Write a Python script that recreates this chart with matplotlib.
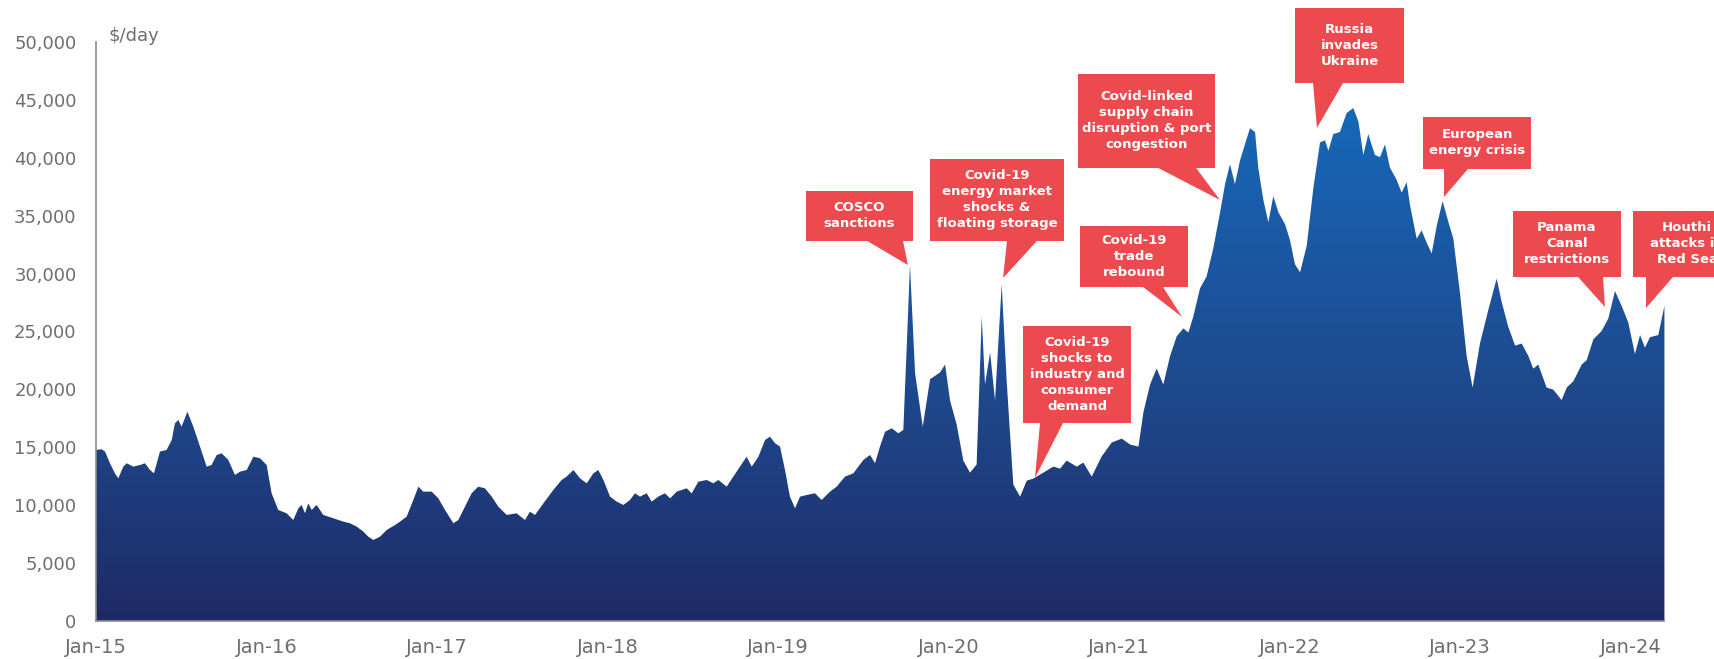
import numpy as np
import matplotlib.pyplot as plt
import matplotlib.patches as mpatches
from matplotlib.colors import LinearSegmentedColormap

# Earnings series, time as decimal years
years = [
    2015.000, 2015.033, 2015.053, 2015.082, 2015.111, 2015.131, 2015.160, 2015.180, 2015.219, 2015.258,
    2015.287, 2015.317, 2015.340, 2015.375, 2015.414, 2015.444, 2015.463, 2015.483, 2015.502, 2015.536,
    2015.571, 2015.610, 2015.649, 2015.678, 2015.708, 2015.737, 2015.776, 2015.815, 2015.845, 2015.884,
    2015.923, 2015.962, 2016.001, 2016.030, 2016.069, 2016.118, 2016.157, 2016.187, 2016.206, 2016.226,
    2016.245, 2016.265, 2016.294, 2016.333, 2016.392, 2016.451, 2016.490, 2016.529, 2016.568, 2016.597,
    2016.627, 2016.666, 2016.705, 2016.754, 2016.783, 2016.822, 2016.861, 2016.891, 2016.920, 2016.969,
    2017.008, 2017.047, 2017.096, 2017.125, 2017.164, 2017.203, 2017.242, 2017.281, 2017.321, 2017.360,
    2017.409, 2017.467, 2017.516, 2017.545, 2017.575, 2017.624, 2017.682, 2017.731, 2017.760, 2017.800,
    2017.839, 2017.878, 2017.917, 2017.946, 2017.976, 2018.015, 2018.054, 2018.093, 2018.132, 2018.161,
    2018.191, 2018.230, 2018.259, 2018.298, 2018.337, 2018.367, 2018.406, 2018.464, 2018.494, 2018.533,
    2018.582, 2018.621, 2018.650, 2018.699, 2018.738, 2018.777, 2018.816, 2018.846, 2018.885, 2018.924,
    2018.953, 2018.983, 2019.012, 2019.041, 2019.070, 2019.100, 2019.129, 2019.168, 2019.217, 2019.256,
    2019.305, 2019.344, 2019.393, 2019.442, 2019.471, 2019.501, 2019.540, 2019.569, 2019.598, 2019.628,
    2019.667, 2019.706, 2019.735, 2019.755, 2019.774, 2019.804, 2019.849, 2019.892, 2019.950, 2019.980,
    2020.009, 2020.048, 2020.087, 2020.126, 2020.165, 2020.195, 2020.214, 2020.244, 2020.273, 2020.312,
    2020.341, 2020.380, 2020.420, 2020.459, 2020.498, 2020.556, 2020.615, 2020.654, 2020.693, 2020.752,
    2020.791, 2020.840, 2020.898, 2020.957, 2021.016, 2021.065, 2021.114, 2021.143, 2021.182, 2021.221,
    2021.260, 2021.299, 2021.338, 2021.377, 2021.407, 2021.436, 2021.475, 2021.514, 2021.553, 2021.593,
    2021.622, 2021.651, 2021.680, 2021.710, 2021.739, 2021.768, 2021.798, 2021.817, 2021.847, 2021.876,
    2021.905, 2021.935, 2021.974, 2022.003, 2022.032, 2022.062, 2022.101, 2022.140, 2022.179, 2022.208,
    2022.228, 2022.257, 2022.296, 2022.335, 2022.374, 2022.404, 2022.433, 2022.462, 2022.501, 2022.531,
    2022.560, 2022.589, 2022.629, 2022.658, 2022.687, 2022.707, 2022.746, 2022.775, 2022.805, 2022.834,
    2022.863, 2022.898, 2022.932, 2022.961, 2023.000, 2023.039, 2023.074, 2023.117, 2023.166, 2023.215,
    2023.244, 2023.283, 2023.323, 2023.362, 2023.401, 2023.430, 2023.459, 2023.508, 2023.547, 2023.596,
    2023.626, 2023.665, 2023.714, 2023.743, 2023.782, 2023.831, 2023.870, 2023.909, 2023.948, 2023.987,
    2024.026, 2024.056, 2024.085, 2024.114, 2024.163, 2024.199,
]
earnings = [
    14770, 14830, 14630, 13620, 12750, 12320, 13330, 13620, 13330, 13470,
    13620, 13040, 12750, 14630, 14770, 15630, 17070, 17360, 16780, 18080,
    16780, 15060, 13330, 13470, 14340, 14480, 13910, 12610, 12900, 13040,
    14190, 14050, 13470, 11030, 9590, 9300, 8720, 9730, 10020, 9300,
    10160, 9590, 10020, 9160, 8870, 8580, 8440, 8150, 7720, 7280,
    7000, 7280, 7860, 8290, 8580, 9010, 10450, 11600, 11170, 11170,
    10590, 9590, 8440, 8720, 9870, 11030, 11600, 11460, 10740, 9870,
    9160, 9300, 8720, 9440, 9160, 10160, 11310, 12180, 12470, 13040,
    12320, 11890, 12750, 13040, 12180, 10740, 10310, 10020, 10450, 11030,
    10740, 11030, 10310, 10740, 11030, 10590, 11170, 11460, 11030, 12030,
    12180, 11890, 12180, 11600, 12470, 13330, 14190, 13330, 14190, 15630,
    15920, 15350, 15060, 13040, 10740, 9730, 10740, 10880, 11030, 10450,
    11170, 11600, 12470, 12750, 13330, 13910, 14340, 13620, 15060, 16350,
    16640, 16210, 16500, 23690, 30750, 21390, 16780, 20880, 21460, 22150,
    19040, 16960, 13850, 12810, 13510, 26300, 20420, 23190, 19040, 29070,
    20770, 11780, 10740, 12120, 12300, 12810, 13330, 13160, 13850, 13330,
    13680, 12470, 14200, 15410, 15750, 15240, 15060, 18000, 20420, 21810,
    20420, 22850, 24570, 25270, 24920, 26300, 28720, 29760, 32180, 35300,
    37720, 39450, 37720, 39790, 41180, 42560, 42220, 39100, 36340, 34430,
    36680, 35300, 34260, 32880, 30800, 30110, 32400, 37400, 41330, 41510,
    40610, 42050, 42230, 43860, 44300, 43140, 40240, 42050, 40240, 40060,
    41150, 39160, 38070, 36990, 37890, 35900, 33010, 33730, 32650, 31740,
    34090, 36260, 34450, 33010, 28300, 22880, 20160, 23960, 26860, 29570,
    27580, 25410, 23780, 23960, 22880, 21790, 22150, 20160, 19980, 19080,
    20160, 20710, 22150, 22520, 24320, 25050, 26130, 28490, 27220, 25770,
    23060, 24690, 23600, 24510, 24690, 27220,
]

y_ticks = [0, 5000, 10000, 15000, 20000, 25000, 30000, 35000, 40000, 45000, 50000]
x_ticks = [2015, 2016, 2017, 2018, 2019, 2020, 2021, 2022, 2023, 2024]
x_labels = ['Jan-15', 'Jan-16', 'Jan-17', 'Jan-18', 'Jan-19',
            'Jan-20', 'Jan-21', 'Jan-22', 'Jan-23', 'Jan-24']

# Event callouts: text, box (x0, x1, y_bottom, y_top), pointer base (x0, x1), pointer tip (x, y)
callout_text = [
    'COSCO\nsanctions',
    'Covid-19\nenergy market\nshocks &\nfloating storage',
    'Covid-19\nshocks to\nindustry and\nconsumer\ndemand',
    'Covid-19\ntrade\nrebound',
    'Covid-linked\nsupply chain\ndisruption & port\ncongestion',
    'Russia\ninvades\nUkraine',
    'European\nenergy crisis',
    'Panama\nCanal\nrestrictions',
    'Houthi\nattacks in\nRed Sea',
]
callout_box = [
    (2019.164, 2019.792, 32820, 37135),
    (2019.891, 2020.677, 32820, 39900),
    (2020.437, 2021.070, 17100, 25480),
    (2020.771, 2021.405, 28840, 34110),
    (2020.760, 2021.563, 39120, 47240),
    (2022.032, 2022.672, 46460, 52940),
    (2022.783, 2023.416, 39035, 43525),
    (2023.311, 2023.944, 29710, 35410),
    (2024.015, 2024.648, 29710, 35410),
]
callout_base = [
    (2019.522, 2019.733), (2020.343, 2020.519), (2020.537, 2020.672),
    (2021.141, 2021.258), (2021.229, 2021.452), (2022.138, 2022.314),
    (2022.906, 2023.047), (2023.692, 2023.839), (2024.091, 2024.250),
]
callout_tip = [
    (2019.762, 30740), (2020.320, 29620), (2020.507, 12350),
    (2021.370, 26250), (2021.592, 36360), (2022.161, 42575),
    (2022.906, 36620), (2023.850, 27120), (2024.091, 27030),
]

RED = '#ec4a4e'
GREY = '#6e6e6e'

W, H = 1715, 659
fig = plt.figure(figsize=(W / 100, H / 100), dpi=100)
ax = fig.add_axes([96 / W, 38 / H, (W - 96) / W, (621 - 42) / H])

x_end = 2015 + (W - 96) / 170.5
ax.set_xlim(2015, x_end)
ax.set_ylim(0, 50000)

# Vertical gradient, clipped to the area under the series
fill_cmap = LinearSegmentedColormap.from_list(
    'fill', [(0.0, '#1f2a66'), (0.35, '#1e4689'), (0.7, '#1a5ca8'), (1.0, '#1470c3')])
grad = np.linspace(0, 1, 256).reshape(-1, 1)
im = ax.imshow(grad, extent=[years[0], years[-1], 0, 50000], origin='lower',
               aspect='auto', cmap=fill_cmap, zorder=1)
area = ax.fill_between(years, earnings, 0, facecolor='none', edgecolor='none')
im.set_clip_path(area.get_paths()[0], transform=ax.transData)

# Callouts
for text, box, base, tip in zip(callout_text, callout_box, callout_base, callout_tip):
    x0, x1, yb, yt = box
    ax.add_patch(mpatches.Rectangle((x0, yb), x1 - x0, yt - yb, facecolor=RED,
                                    edgecolor='none', zorder=3, clip_on=False))
    ax.add_patch(mpatches.Polygon([(base[0], yb + 10), (base[1], yb + 10), tip],
                                  closed=True, facecolor=RED, edgecolor='none',
                                  zorder=3, clip_on=False))
    ax.text((x0 + x1) / 2, (yb + yt) / 2, text, ha='center', va='center',
            color='white', fontsize=9.5, fontweight='bold', linespacing=1.3,
            zorder=4, clip_on=False)

# Axes styling
for side in ['top', 'right']:
    ax.spines[side].set_visible(False)
ax.spines['left'].set_color('#8c8c8c')
ax.spines['bottom'].set_color('#8c8c8c')
ax.spines['left'].set_linewidth(1.2)
ax.spines['bottom'].set_linewidth(1.2)
ax.spines['bottom'].set_bounds(2015, years[-1])
ax.spines['bottom'].set_zorder(2)

ax.set_yticks(y_ticks)
ax.set_yticklabels([f'{v:,}' for v in y_ticks])
ax.set_xticks(x_ticks)
ax.set_xticklabels(x_labels)
ax.tick_params(axis='y', length=0, pad=14, labelsize=13, labelcolor=GREY)
ax.tick_params(axis='x', length=0, pad=12, labelsize=14, labelcolor=GREY)

fig.text(109 / W, 1 - 36 / H, '$/day', ha='left', va='center', fontsize=13, color=GREY)

fig.savefig('out.png', dpi=100)
